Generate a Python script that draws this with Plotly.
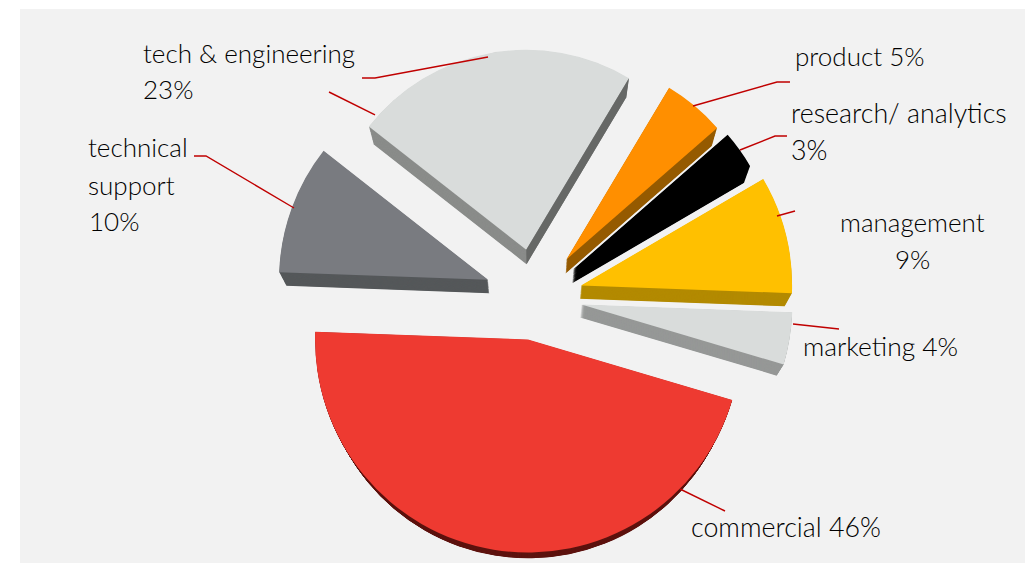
import math
import plotly.graph_objects as go

W, H = 1025, 563

# Department shares, clockwise starting from the largest slice
departments = ["commercial", "technical support", "tech & engineering", "product",
               "research/ analytics", "management", "marketing"]
shares = [46, 10, 23, 5, 3, 9, 4]
face_colors = ["#ee3a31", "#797b80", "#d9dcdb", "#ff8f00", "#000000", "#ffc000", "#d9dcdb"]
wall_colors = ["#5e1410", "#55585a", "#8a8c8a", "#955a00", "#000000", "#b38a00", "#969897"]

# Label wording, one entry per drawn line
label_text = [
    "tech & engineering", f"{shares[2]}%",
    "technical", "support", f"{shares[1]}%",
    f"product {shares[3]}%",
    "research/ analytics", f"{shares[4]}%",
    "management", f"{shares[5]}%",
    f"marketing {shares[6]}%",
    f"commercial {shares[0]}%",
]

# Foreshortening: slices further back are drawn smaller; explode offsets in pixels
slice_radius = [213, 209, 200, 200, 205, 211, 211]
slice_offset = [43, 50, 48, 49, 47, 47.5, 47]

START_ANGLE = 106.5
CX, CY = 535, 297
DEPTH = 13
LAYERS_PER_PX = 2
FAR_SCALE = 0.972
CLEAR = "rgba(0,0,0,0)"

# Placement of each label line: (x, y, anchor, font size)
label_place = [
    (142, 53, "left", 26), (142, 89, "left", 26),
    (87, 147, "left", 26), (87, 185, "left", 26), (88, 221, "left", 26),
    (794, 56, "left", 26),
    (790, 113, "left", 26.8), (790, 150, "left", 26.8),
    (912, 222, "center", 26), (912, 259, "center", 26),
    (802, 346, "left", 26.4),
    (690, 527, "left", 26.8),
]

# Leader polylines in page pixels
leaders = [
    [(362, 78), (375, 78), (488, 57)],
    [(329, 92), (375, 115)],
    [(194, 156), (206, 156), (294, 208)],
    [(790, 82), (777, 82), (693, 106)],
    [(787, 136), (775, 136), (740, 150)],
    [(777, 216), (795, 211)],
    [(793, 324), (839, 329)],
    [(680, 489), (725, 511)],
]


def px(x):
    return x / W


def py(y):
    return 1 - y / H


def pie_layer(index, color, scale, cy):
    """One exploded slice of the shared pie; the others stay transparent."""
    radius = slice_radius[index] * scale
    pull = slice_offset[index] / slice_radius[index]
    half = radius * (1 + pull)
    colors = [color if i == index else CLEAR for i in range(len(shares))]
    return go.Pie(
        labels=departments, values=shares, sort=False, direction="clockwise",
        rotation=START_ANGLE, pull=pull, textinfo="none", hoverinfo="skip",
        showlegend=False, marker=dict(colors=colors, line=dict(width=0)),
        domain=dict(x=[px(CX - half), px(CX + half)],
                    y=[py(cy + half), py(cy - half)]),
    )


fig = go.Figure()

# Extruded side walls, receding towards a slightly smaller far face
layer_count = DEPTH * LAYERS_PER_PX
for step in range(layer_count, 0, -1):
    t = step / layer_count
    for i, wall in enumerate(wall_colors):
        fig.add_trace(pie_layer(i, wall, 1 - (1 - FAR_SCALE) * t, CY + DEPTH * t))
for i, face in enumerate(face_colors):
    fig.add_trace(pie_layer(i, face, 1, CY))


def slice_point(index, angle, dist, t):
    """Pixel position on an exploded slice, at depth fraction t."""
    start = START_ANGLE + sum(shares[:index]) * 3.6
    mid = math.radians(start + shares[index] * 1.8)
    a = math.radians(angle)
    scale = 1 - (1 - FAR_SCALE) * t
    x = slice_offset[index] * math.sin(mid) + dist * math.sin(a)
    y = -slice_offset[index] * math.cos(mid) - dist * math.cos(a)
    return CX + x * scale, CY + DEPTH * t + y * scale


# The cut face on the trailing edge of tech & engineering catches less light
eng = 2
eng_end = START_ANGLE + sum(shares[:eng + 1]) * 3.6
eng_r = slice_radius[eng]
quad = [slice_point(eng, eng_end, 0, 0), slice_point(eng, eng_end, eng_r, 0),
        slice_point(eng, eng_end, eng_r, 1), slice_point(eng, eng_end, 0, 1)]
wall_path = "M " + " L ".join(f"{px(x):.5f},{py(y):.5f}" for x, y in quad) + " Z"

shapes = [
    dict(type="rect", xref="paper", yref="paper", layer="below",
         x0=px(20), x1=1, y0=0, y1=py(9),
         fillcolor="#f2f2f2", line=dict(width=0)),
    dict(type="path", xref="paper", yref="paper", layer="above", path=wall_path,
         fillcolor="#666866", line=dict(width=0)),
]
for points in leaders:
    path = "M " + " L ".join(f"{px(x):.5f},{py(y):.5f}" for x, y in points)
    shapes.append(dict(type="path", xref="paper", yref="paper", layer="above", path=path,
                       line=dict(color="#c00000", width=1.4)))

annotations = [
    dict(text=text, x=px(x), y=py(y), xref="paper", yref="paper", xanchor=anchor,
         yanchor="middle", showarrow=False, borderpad=0,
         font=dict(family="Lato", size=size, weight=300, color="#000000"))
    for text, (x, y, anchor, size) in zip(label_text, label_place)
]

fig.update_layout(width=W, height=H, margin=dict(l=0, r=0, t=0, b=0),
                  paper_bgcolor="#ffffff", shapes=shapes, annotations=annotations)
fig.write_html("out.html")
